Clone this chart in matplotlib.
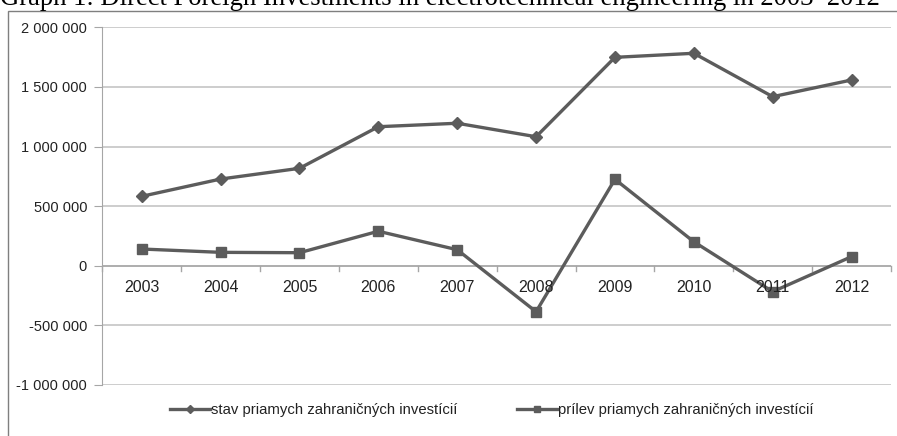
import matplotlib
matplotlib.use("Agg")
import matplotlib.pyplot as plt
from matplotlib.patches import Rectangle
from matplotlib.ticker import FuncFormatter

years = ["2003", "2004", "2005", "2006", "2007", "2008", "2009", "2010", "2011", "2012"]
stav = [582000, 727000, 817000, 1166000, 1195000, 1082000, 1748000, 1782000, 1418000, 1558000]
prilev = [140000, 112000, 109000, 289000, 134000, -386000, 725000, 201000, -218000, 76000]
label_stav = "stav priamych zahraničných investícií"
label_prilev = "prílev priamych zahraničných investícií"
title = "Graph 1: Direct Foreign Investments in electrotechnical engineering in 2003\u20132012"

font = "Liberation Sans"
W, H = 897, 436
fig = plt.figure(figsize=(W / 100, H / 100), dpi=100)

# outer frame
fig.patches.append(Rectangle((7.5 / W, -0.1), 1.2, (H - 11) / H + 0.1, transform=fig.transFigure,
                             fill=False, edgecolor="#7f7f7f", linewidth=1.0))

# title (partly cut at top, as in the reference)
fig.text(0.0, 1 - 5 / H, title, family="Liberation Serif", fontsize=19.2,
         ha="left", va="baseline", color="black")

ax = fig.add_axes([102.3 / W, 1 - 384.9 / H, (891 - 102.3) / W, (384.9 - 27.3) / H])
x = list(range(len(years)))
line_col = "#5c5c5c"
ax.plot(x, stav, color=line_col, lw=2.4, marker="D", ms=6, label=label_stav, zorder=3)
ax.plot(x, prilev, color=line_col, lw=2.4, marker="s", ms=6.5, label=label_prilev, zorder=3)

ax.set_xlim(-0.5, len(years) - 0.5)
ax.set_ylim(-1000000, 2000000)
ax.set_yticks([-1000000, -500000, 0, 500000, 1000000, 1500000, 2000000])
ax.yaxis.set_major_formatter(FuncFormatter(lambda v, p: f"{int(v):,}".replace(",", " ")))
ax.grid(axis="y", color="#c0c0c0", lw=1.1)
ax.set_axisbelow(True)
for s in ["top", "right", "bottom"]:
    ax.spines[s].set_visible(False)
ax.spines["left"].set_color("#a6a6a6")
ax.tick_params(axis="y", length=6, color="#a6a6a6", labelsize=10.5, pad=5, labelcolor="#222222")
for t in ax.get_yticklabels():
    t.set_family(font)

# category axis at zero with ticks between categories
ax.axhline(0, color="#a6a6a6", lw=1.1, zorder=2)
ax.set_xticks(x)
ax.set_xticklabels([])
ax.tick_params(axis="x", length=0)
for i in range(len(years) + 1):
    ax.plot([i - 0.5, i - 0.5], [0, -45000], color="#a6a6a6", lw=1.0, clip_on=False, zorder=2)
for i, yv in enumerate(years):
    ax.text(i, -187000, yv, ha="center", va="center", fontsize=11.5, family=font, color="#222222")

leg = fig.legend(loc="center", bbox_to_anchor=(491.5 / W, 1 - 410 / H), ncol=2, frameon=False,
                 prop={"family": font, "size": 10.7}, handlelength=2.7, handletextpad=0.05,
                 columnspacing=4.0, markerscale=0.75, borderpad=0, borderaxespad=0)
for t in leg.get_texts():
    t.set_color("#222222")

fig.savefig("out.png", dpi=100)
